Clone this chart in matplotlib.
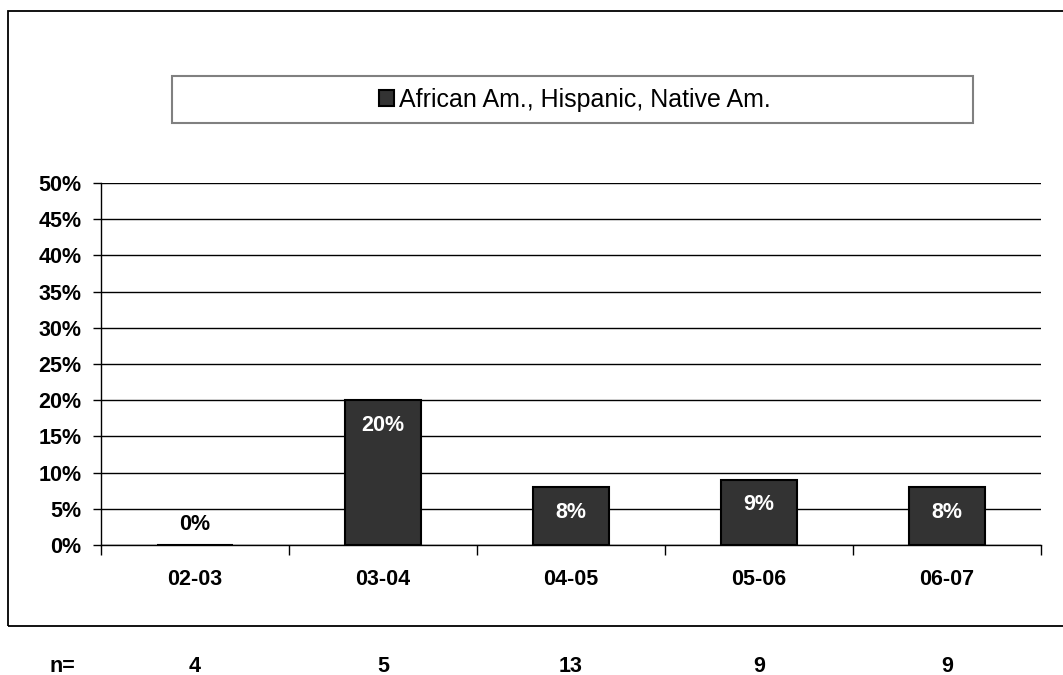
import matplotlib
matplotlib.use("Agg")
import matplotlib.pyplot as plt
from matplotlib.patches import Rectangle

categories = ["02-03", "03-04", "04-05", "05-06", "06-07"]
values = [0.0, 0.20, 0.08, 0.09, 0.08]
value_labels = ["0%", "20%", "8%", "9%", "8%"]
n_values = ["4", "5", "13", "9", "9"]
series_name = "African Am., Hispanic, Native Am."
yticks = [0.0, 0.05, 0.10, 0.15, 0.20, 0.25, 0.30, 0.35, 0.40, 0.45, 0.50]
ytick_labels = ["0%", "5%", "10%", "15%", "20%", "25%", "30%", "35%", "40%", "45%", "50%"]

plt.rcParams['font.family'] = ['Liberation Sans', 'DejaVu Sans']

W, H = 1063, 675
fig = plt.figure(figsize=(W / 100, H / 100), dpi=100)
fig.patch.set_facecolor("white")

def fx(px):
    return px / W

def fy(py):
    return 1 - py / H

# outer border (right edge falls outside the image)
fig.add_artist(Rectangle((fx(8), fy(626)), fx(1070) - fx(8), fy(11) - fy(626),
                         transform=fig.transFigure, fill=False,
                         edgecolor="black", linewidth=1.3))

ax = fig.add_axes([fx(101), fy(545), fx(1041) - fx(101), fy(183) - fy(545)])
x = list(range(len(categories)))
bars = ax.bar(x, values, width=0.405, color="#333333", edgecolor="black",
              linewidth=1.5, label=series_name, zorder=3)

ax.set_xlim(-0.5, len(categories) - 0.5)
ax.set_ylim(0, 0.5)
ax.set_yticks(yticks)
ax.set_yticklabels(ytick_labels, fontsize=15.5, fontweight="bold")
ax.yaxis.grid(True, color="black", linewidth=1.0, zorder=0)
ax.set_axisbelow(True)
ax.tick_params(axis="y", length=6, width=1, pad=8, direction="out")

# category ticks between groups, labels at centers
ax.set_xticks([i - 0.5 for i in range(len(categories) + 1)])
ax.set_xticklabels([])
ax.set_xticks(x, minor=True)
ax.set_xticklabels(categories, minor=True, fontsize=15.5, fontweight="bold")
ax.tick_params(axis="x", which="major", length=7, width=1, direction="out")
ax.tick_params(axis="x", which="minor", length=0, pad=17)

for s in ["top", "right"]:
    ax.spines[s].set_visible(False)
for s in ["left", "bottom"]:
    ax.spines[s].set_color("black")
    ax.spines[s].set_linewidth(1.0)

for i, (v, lab) in enumerate(zip(values, value_labels)):
    if v > 0:
        ax.annotate(lab, (i, v), xytext=(0, -25), textcoords="offset pixels",
                    ha="center", va="center", color="white",
                    fontsize=15.5, fontweight="bold", zorder=4)
    else:
        ax.annotate(lab, (i, v), xytext=(0, 20), textcoords="offset pixels",
                    ha="center", va="center", color="black",
                    fontsize=15.5, fontweight="bold", zorder=4)

# n= row below the chart border
fig.text(fx(62), fy(666), "n=", ha="center", va="center",
         fontsize=15.5, fontweight="bold")
for i, nv in enumerate(n_values):
    xd = ax.transData.transform((i, 0))[0]
    fig.text(xd / W, fy(666), nv, ha="center", va="center",
             fontsize=15.5, fontweight="bold")

# legend: framed box spanning wide, content centered
fig.add_artist(Rectangle((fx(172), fy(123)), fx(973) - fx(172), fy(76) - fy(123),
                         transform=fig.transFigure, fill=True, facecolor="white",
                         edgecolor="#808080", linewidth=1.5, zorder=5))
leg = fig.legend(handles=[bars], labels=[series_name], loc="center",
                 bbox_to_anchor=(fx(575), fy(99.5)), frameon=False,
                 fontsize=18, handlelength=0.6, handleheight=0.6,
                 handletextpad=0.22, borderpad=0)
leg.set_zorder(6)

fig.savefig("out.png", dpi=100, facecolor="white")
